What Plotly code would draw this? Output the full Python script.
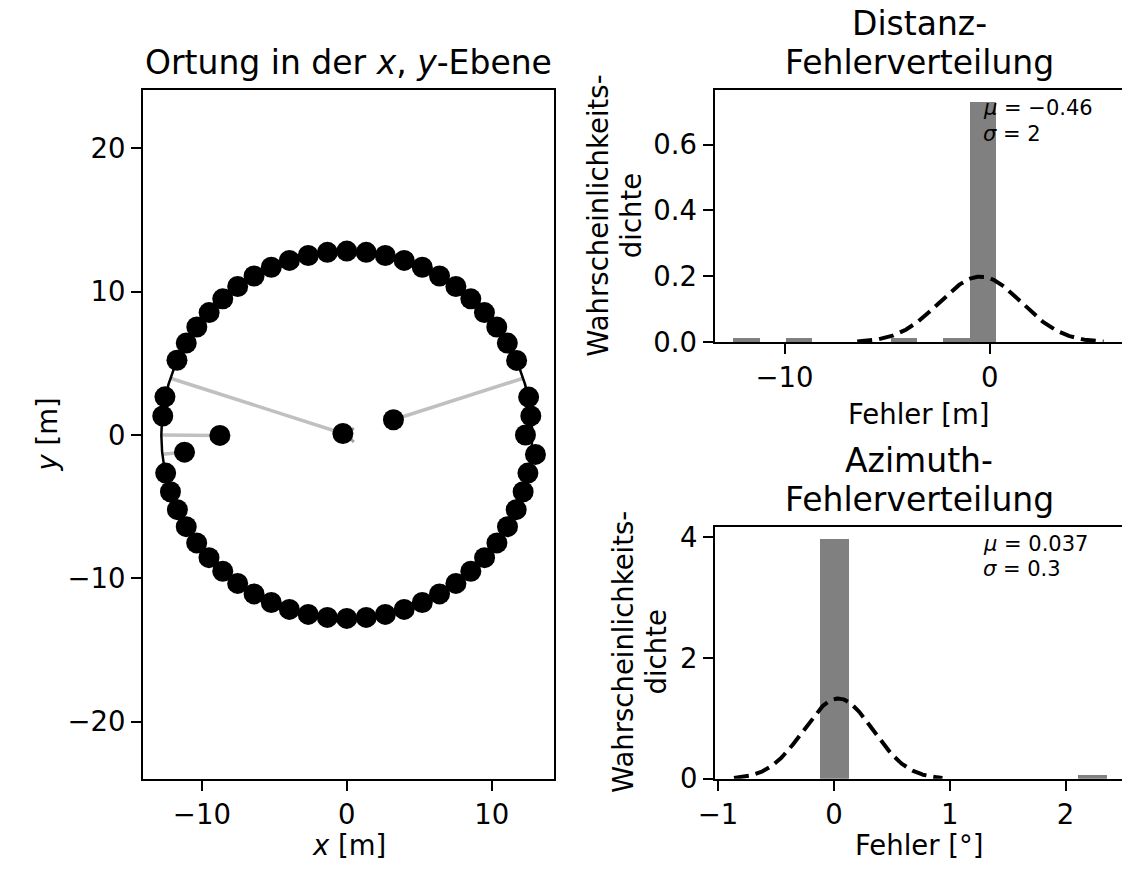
import numpy as np
import plotly.graph_objects as go

W, H = 1122, 876
FONT = "DejaVu Sans"

# Estimated source positions [m], one per 6° step around the ring (0° ... 354°)
est_x = [12.33, 12.70, 12.55, 3.22, 11.72, 11.08, 10.35, 9.50, 8.56, 7.53,
         6.40, 5.21, 3.96, 2.66, 1.34, 0.00, -1.34, -2.66, -3.96, -5.21,
         -6.40, -7.53, -8.56, -9.50, -10.35, -11.08, -11.72, -0.27, -12.55, -12.70,
         -8.76, -11.20, -12.50, -12.17, -11.69, -11.08, -10.36, -9.51, -8.56, -7.53,
         -6.40, -5.21, -3.96, -2.66, -1.34, 0.00, 1.34, 2.66, 3.96, 5.21,
         6.40, 7.53, 8.56, 9.51, 10.36, 11.09, 11.69, 12.17, 12.50, 13.02]
est_y = [0.00, 1.33, 2.64, 1.06, 5.20, 6.41, 7.53, 8.54, 9.50, 10.36,
         11.09, 11.70, 12.18, 12.52, 12.74, 12.83, 12.74, 12.52, 12.18, 11.70,
         11.09, 10.36, 9.50, 8.54, 7.53, 6.41, 5.21, 0.10, 2.66, 1.32,
         -0.03, -1.20, -2.66, -3.96, -5.21, -6.40, -7.53, -8.56, -9.51, -10.36,
         -11.09, -11.69, -12.17, -12.52, -12.73, -12.80, -12.73, -12.52, -12.17, -11.69,
         -11.09, -10.36, -9.51, -8.56, -7.53, -6.40, -5.21, -3.96, -2.66, -1.36]

# Sources with large localisation errors: true position -> estimate
err_true_x = [12.17, -12.17, -12.80, -12.73]
err_true_y = [3.96, 3.96, 0.00, -1.34]
err_est_x = [3.22, -0.27, -8.76, -11.20]
err_est_y = [1.06, 0.10, -0.03, -1.20]

ring_radius = 12.8
array_x = [0.0]
array_y = [0.0]

# Distance error histogram (density) and fitted normal
dist_lo, dist_hi = -12.51, 0.27
dist_counts = [1, 0, 1, 0, 0, 0, 1, 0, 1, 56]
dist_mu, dist_sigma = -0.46, 2.0

# Azimuth error histogram (density) and fitted normal
az_lo, az_hi = -0.122, 2.356
az_counts = [59, 0, 0, 0, 0, 0, 0, 0, 0, 1]
az_mu, az_sigma = 0.037, 0.3


def px_x(p):
    return p / W


def px_y(p):
    return 1 - p / H


def hist_bars(lo, hi, counts):
    edges = np.linspace(lo, hi, len(counts) + 1)
    width = edges[1] - edges[0]
    centers = (edges[:-1] + edges[1:]) / 2
    dens = np.array(counts) / (np.sum(counts) * width)
    return centers, dens, width


def normal_curve(mu, sigma):
    xs = np.linspace(mu - 3 * sigma, mu + 3 * sigma, 300)
    ys = np.exp(-0.5 * ((xs - mu) / sigma) ** 2) / (sigma * np.sqrt(2 * np.pi))
    return xs, ys


fig = go.Figure()

# --- left panel: localisation in the x,y plane ---
lx, ly = [], []
for tx, ty, ex, ey in zip(err_true_x, err_true_y, err_est_x, err_est_y):
    lx += [tx, ex, None]
    ly += [ty, ey, None]
fig.add_trace(go.Scatter(x=lx, y=ly, mode="lines", line=dict(color="#c0c0c0", width=3.5),
                         xaxis="x", yaxis="y", hoverinfo="skip"))
fig.add_trace(go.Scatter(x=array_x, y=array_y, mode="markers",
                         marker=dict(symbol="x-thin", size=14, line=dict(color="#a0a0a0", width=3)),
                         xaxis="x", yaxis="y"))
fig.add_shape(type="circle", xref="x", yref="y",
              x0=-ring_radius, y0=-ring_radius, x1=ring_radius, y1=ring_radius,
              line=dict(color="black", width=2.5), layer="above")
fig.add_trace(go.Scatter(x=est_x, y=est_y, mode="markers",
                         marker=dict(color="black", size=21, line=dict(width=0)),
                         xaxis="x", yaxis="y"))

# --- top right: distance error distribution ---
c, d, w = hist_bars(dist_lo, dist_hi, dist_counts)
fig.add_trace(go.Bar(x=c, y=d, width=w, marker=dict(color="#808080", line=dict(width=0)),
                     xaxis="x2", yaxis="y2"))
gx, gy = normal_curve(dist_mu, dist_sigma)
fig.add_trace(go.Scatter(x=gx, y=gy, mode="lines",
                         line=dict(color="black", width=4, dash="15px,7px"),
                         xaxis="x2", yaxis="y2"))

# --- bottom right: azimuth error distribution ---
c, d, w = hist_bars(az_lo, az_hi, az_counts)
fig.add_trace(go.Bar(x=c, y=d, width=w, marker=dict(color="#808080", line=dict(width=0)),
                     xaxis="x3", yaxis="y3"))
gx, gy = normal_curve(az_mu, az_sigma)
fig.add_trace(go.Scatter(x=gx, y=gy, mode="lines",
                         line=dict(color="black", width=4, dash="15px,7px"),
                         xaxis="x3", yaxis="y3"))

TICK_SIZE = 27.5
tickfont = dict(family=FONT, size=TICK_SIZE, color="black")
axis_common = dict(showgrid=False, zeroline=False, showline=True, linecolor="black",
                   linewidth=2, ticks="outside", ticklen=10, tickwidth=2,
                   tickcolor="black", tickfont=tickfont, fixedrange=True)

fig.update_layout(
    width=W, height=H,
    margin=dict(l=0, r=0, t=0, b=0),
    paper_bgcolor="white", plot_bgcolor="white",
    showlegend=False,
    bargap=0,
    xaxis=dict(domain=[px_x(128), px_x(545.7)], range=[-14.06, 14.33], anchor="y",
               tickvals=[-10, 0, 10], ticktext=["−10", "0", "10"], mirror=True, **axis_common),
    yaxis=dict(domain=[px_y(792.7), px_y(86)], range=[-23.99, 24.08], anchor="x",
               tickvals=[-20, -10, 0, 10, 20], ticktext=["−20", "−10", "0", "10", "20"],
               mirror=True, **axis_common),
    xaxis2=dict(domain=[px_x(708.3), 1], range=[-13.41, 6.44], anchor="y2",
                tickvals=[-10, 0], ticktext=["−10", "0"], mirror=True, **axis_common),
    yaxis2=dict(domain=[px_y(345), px_y(86)], range=[0, 0.766], anchor="x2",
                tickvals=[0, 0.2, 0.4, 0.6], ticktext=["0.0", "0.2", "0.4", "0.6"],
                mirror=False, **axis_common),
    xaxis3=dict(domain=[px_x(708.7), 1], range=[-1.027, 2.487], anchor="y3",
                tickvals=[-1, 0, 1, 2], ticktext=["−1", "0", "1", "2"], mirror=True, **axis_common),
    yaxis3=dict(domain=[px_y(792.7), px_y(534.3)], range=[0, 4.168], anchor="x3",
                tickvals=[0, 2, 4], ticktext=["0", "2", "4"], mirror=False, **axis_common),
)


def label(text, x, y, size=TICK_SIZE, angle=0, xanchor="center"):
    fig.add_annotation(text=text, x=px_x(x), y=px_y(y), xref="paper", yref="paper",
                       showarrow=False, textangle=angle, xanchor=xanchor, yanchor="middle",
                       font=dict(family=FONT, size=size, color="black"))


# titles (one annotation per line, 40 px line pitch)
label("Ortung in der <i>x</i>, <i>y</i>-Ebene", 337, 58, size=33)
label("Distanz-", 916, 18, size=33)
label("Fehlerverteilung", 916, 58, size=33)
label("Azimuth-", 916, 466, size=33)
label("Fehlerverteilung", 916, 506, size=33)

# axis labels
label("<i>x</i> [m]", 337, 861)
label("<i>y</i> [m]", 30, 440, angle=-90)
label("Fehler [m]", 916, 419)
label("Fehler [°]", 916, 861)
label("Wahrscheinlichkeits-", 590, 215, angle=-90)
label("dichte", 623, 215, angle=-90)
label("Wahrscheinlichkeits-", 616, 663, angle=-90)
label("dichte", 649, 663, angle=-90)

# fit parameters
label("<i>μ</i> = −0.46", 979, 105, size=21, xanchor="left")
label("<i>σ</i> = 2", 979, 131, size=21, xanchor="left")
label("<i>μ</i> = 0.037", 979, 552, size=21, xanchor="left")
label("<i>σ</i> = 0.3", 979, 578, size=21, xanchor="left")

fig.write_html("out.html")
